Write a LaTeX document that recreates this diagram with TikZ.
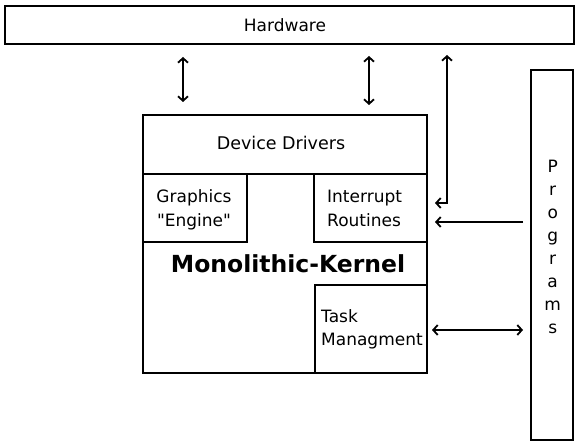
\documentclass[tikz,border=0pt]{standalone}
\usepackage{fontspec}
\setmainfont{DejaVu Sans}
\usetikzlibrary{arrows.meta}
\begin{document}
\begin{tikzpicture}[x=1pt,y=-1pt,
  box/.style={draw, line width=2.1pt, inner sep=0pt, outer sep=0pt, anchor=north west},
  lbl/.style={inner sep=0pt, font=\fontsize{17}{23.7}\selectfont},
  conn/.style={line width=1.8pt},
  >={Straight Barb[length=4.5pt,width=10pt]},
]
\useasboundingbox (0,0) rectangle (578,446);
% boxes
\node[box, minimum width=569pt, minimum height=38pt] (hw) at (5,6) {};
\node[box, minimum width=284pt, minimum height=258pt] (kernel) at (143,115) {};
\node[box, minimum width=284pt, minimum height=59pt] (dd) at (143,115) {};
\node[box, minimum width=104pt, minimum height=68pt] (gfx) at (143,174) {};
\node[box, minimum width=113pt, minimum height=68pt] (intr) at (314,174) {};
\node[box, minimum width=112pt, minimum height=88pt] (task) at (315,285) {};
\node[box, minimum width=42pt, minimum height=370pt] (prog) at (531,70) {};
% texts (base anchor = last line's baseline)
\node[lbl, anchor=base] (thw) at (285,31.7) {Hardware};
\node[lbl, anchor=base, font=\fontsize{17.5}{23.7}\selectfont] (tdd) at (281,150) {Device Drivers};
\node[lbl, anchor=base, align=center] (tgfx) at (194,226.7) {Graphics\\\textquotedbl Engine\textquotedbl};
\node[lbl, anchor=base west, align=left] (tintr) at (327,226.7) {Interrupt\\Routines};
\node[inner sep=0pt, anchor=base, font=\fontsize{23.5}{28}\selectfont\bfseries] (tker) at (288,272.7) {Monolithic-Kernel};
\node[lbl, anchor=base west, align=left] (ttask) at (321,345.7) {Task\\Managment};
\node[inner sep=0pt, anchor=base, align=center, font=\fontsize{17}{22.86}\selectfont] (tprog) at (552.7,333) {P\\r\\o\\g\\r\\a\\m\\s};
% connector end points
\coordinate (a1s) at (183,57);
\coordinate (a1e) at (183,102);
\coordinate (a2s) at (369,56);
\coordinate (a2e) at (369,105);
\coordinate (a3s) at (435,203);
\coordinate (a3e) at (447,55);
\coordinate (a4s) at (523,222);
\coordinate (a4e) at (435,222);
\coordinate (a5s) at (432,330);
\coordinate (a5e) at (523,330);
% connectors
\draw[conn, <->] (a1s) -- (a1e);
\draw[conn, <->] (a2s) -- (a2e);
\draw[conn, <->] (a3s) -| (a3e);
\draw[conn, ->] (a4s) -- (a4e);
\draw[conn, <->] (a5s) -- (a5e);
\end{tikzpicture}
\end{document}
